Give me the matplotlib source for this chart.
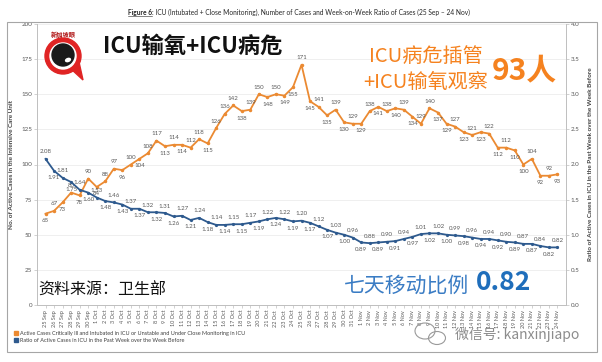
import numpy as np
import matplotlib.pyplot as plt
from matplotlib.patches import Circle, Rectangle, Polygon, Ellipse, Patch

# dates 25 Sep - 24 Nov
sep_days = list(range(25, 31))
oct_days = list(range(1, 32))
nov_days = list(range(1, 25))
dates = ([f"{d} Sep" for d in sep_days] + [f"{d} Oct" for d in oct_days]
         + [f"{d} Nov" for d in nov_days])

# active ICU cases (left axis)
icu_cases = [65, 67, 73, 80, 78, 90, 84, 88, 97, 96,
             100, 104, 108, 117, 113, 114, 114, 112, 118, 115,
             126, 136, 142, 138, 139, 150, 148, 150, 149, 155,
             171, 145, 141, 135, 139, 130, 129, 129, 138, 141,
             138, 140, 139, 134, 129, 140, 137, 129, 127, 123,
             121, 123, 122, 112, 112, 110, 100, 104, 92, 92,
             93]

# week-on-week ratio (right axis)
ratio = [2.08, 1.91, 1.81, 1.75, 1.64, 1.60, 1.53, 1.48, 1.46, 1.43,
         1.37, 1.37, 1.32, 1.32, 1.31, 1.26, 1.27, 1.21, 1.24, 1.18,
         1.14, 1.14, 1.15, 1.15, 1.17, 1.19, 1.22, 1.24, 1.22, 1.19,
         1.20, 1.17, 1.12, 1.07, 1.03, 1.00, 0.96, 0.89, 0.88, 0.89,
         0.90, 0.91, 0.94, 0.97, 1.01, 1.02, 1.02, 1.00, 0.99, 0.98,
         0.96, 0.94, 0.94, 0.92, 0.90, 0.89, 0.87, 0.87, 0.84, 0.82,
         0.82]

legend_labels = ["Active Cases Critically Ill and Intubated in ICU or Unstable and Under Close Monitoring in ICU",
                 "Ratio of Active Cases in ICU in the Past Week over the Week Before"]

ORANGE = '#EB8A32'
BLUE = '#2E5A8E'
GRAY = '#595959'
AXC = '#BFBFBF'
CJK = ['Noto Sans CJK SC', 'DejaVu Sans']

plt.rcParams['font.family'] = ['Lato', 'DejaVu Sans']


def label_points(ax, xs, ys, fmt, close):
    # peaks get labels above, dips below; flip when crowding the previous one
    n = len(ys)
    prev = None
    for i in range(n):
        nb = [ys[j] for j in (i - 1, i + 1) if 0 <= j < n]
        up = ys[i] >= np.mean(nb)
        if prev is not None and up == prev and abs(ys[i] - ys[i - 1]) < close:
            up = not up
        prev = up
        ax.annotate(fmt(ys[i]), (xs[i], ys[i]), xytext=(0, 3.2 if up else -3.2),
                    textcoords='offset points', ha='center',
                    va='bottom' if up else 'top', fontsize=4.4, color=GRAY)


fig = plt.figure(figsize=(6.02, 3.62), dpi=100)
ax = fig.add_axes([37 / 602, 57 / 362, 529 / 602, 281 / 362])
x = np.arange(len(dates))

ax.plot(x, icu_cases, color=ORANGE, lw=1.3, marker='o', ms=1.5, zorder=3)
ax.set_ylim(0, 200)
ax.set_yticks(range(0, 201, 25))
ax.set_xlim(-1, len(dates))
ax.set_xticks(x)
ax.set_xticklabels(dates, rotation=90, fontsize=4, color=GRAY)
ax.grid(axis='y', color='#EDEDED', lw=0.6)
ax.set_axisbelow(True)
label_points(ax, x, icu_cases, lambda v: f"{v}", 6)

ax2 = ax.twinx()
ax2.plot(x, ratio, color=BLUE, lw=1.3, marker='o', ms=1.3, zorder=3)
ax2.set_ylim(0, 4)
ax2.set_yticks(np.arange(0, 4.01, 0.5))
ax2.set_yticklabels([f"{v:.1f}" for v in np.arange(0, 4.01, 0.5)])
label_points(ax2, x, ratio, lambda v: f"{v:.2f}", 0.12)

for a in (ax, ax2):
    a.spines['top'].set_visible(False)
    for s in ('left', 'right', 'bottom'):
        a.spines[s].set_color(AXC)
        a.spines[s].set_linewidth(0.6)
    a.tick_params(length=2, width=0.5, color=AXC, labelcolor=GRAY, pad=1.5)
    a.tick_params(axis='y', labelsize=4.5)

ax.set_ylabel("No. of Active Cases in the Intensive Care Unit", fontsize=4.6,
              fontweight='bold', color='#404040')
ax.yaxis.set_label_coords(-0.044, 0.5)
ax2.set_ylabel("Ratio of Active Cases in ICU in the Past Week over the Week Before",
               fontsize=4.6, fontweight='bold', color='#404040', rotation=90)
ax2.yaxis.set_label_coords(1.042, 0.5)

fig.legend([Patch(color=ORANGE), Patch(color=BLUE)], legend_labels,
           loc='upper left', bbox_to_anchor=(12 / 602, 1 - 329 / 362),
           fontsize=4, frameon=False, handlelength=0.7, handleheight=0.7,
           handletextpad=0.4, labelspacing=0.3, borderaxespad=0,
           labelcolor='#404040')

# overlay in pixel coordinates
ov = fig.add_axes([0, 0, 1, 1], zorder=10)
ov.set_xlim(0, 602)
ov.set_ylim(362, 0)
ov.axis('off')
ov.patch.set_alpha(0)

ov.add_patch(Rectangle((7, 22), 590, 330, fill=False, ec='#A6A6A6', lw=0.8))

t1 = ov.text(128, 12, "Figure 6", fontsize=4.8, fontweight='bold', va='center',
             color='#262626')
ov.annotate(": ICU (Intubated + Close Monitoring), Number of Cases and Week-on-Week Ratio of Cases (25 Sep \u2013 24 Nov)",
            xy=(1, 0), xycoords=t1, va='bottom', fontsize=4.8, color='#262626')
fig.canvas.draw()
bb = t1.get_window_extent().transformed(ov.transData.inverted())
ov.plot([bb.x0, bb.x1], [bb.y0 + 0.3, bb.y0 + 0.3], color='#262626', lw=0.4)

# logo
ov.add_patch(Polygon([[70, 68], [79, 62], [83, 80]], color='#E02424'))
ov.add_patch(Circle((63, 56), 18, color='#E02424'))
ov.add_patch(Circle((63, 56), 13, color='white'))
ov.add_patch(Circle((63, 55), 11, color='#1A1A1A'))
ov.add_patch(Ellipse((68, 60), 5, 3, angle=-20, color='white'))
ov.text(63, 34, "新加坡眼", fontsize=4.5, fontweight='bold', color='#B01818',
        ha='center', va='center', family=CJK)

ov.text(103, 46, "ICU输氧+ICU病危", fontsize=16, fontweight='bold', color='#111111',
        va='center', family=CJK)
ov.text(426, 56, "ICU病危插管", fontsize=14.5, color='#F5821F', ha='center',
        va='center', family=CJK)
ov.text(426, 82, "+ICU输氧观察", fontsize=14.5, color='#F5821F', ha='center',
        va='center', family=CJK)
ov.text(492, 70, "93人", fontsize=21.5, fontweight='bold', color='#F5821F',
        va='center', family=CJK)

ov.text(38, 290, "资料来源：卫生部", fontsize=11.5, color='#111111', va='center',
        family=CJK)
ov.text(407, 286, "七天移动比例", fontsize=15, color='#3A7CC4', ha='center',
        va='center', family=CJK)
ov.text(476, 283, "0.82", fontsize=19, fontweight='bold', color='#1F6EBB',
        va='center', family=CJK)

# watermark
ov.add_patch(Ellipse((425, 331), 20, 16, fill=False, ec='#9A9A9A', lw=0.8))
ov.add_patch(Ellipse((437, 338), 17, 13, fill=False, ec='#9A9A9A', lw=0.8,
                     fc='white'))
ov.text(455, 334, "微信号: kanxinjiapo", fontsize=10, color='#8C8C8C',
        va='center', family=CJK)

fig.savefig("out.png", dpi=100)
